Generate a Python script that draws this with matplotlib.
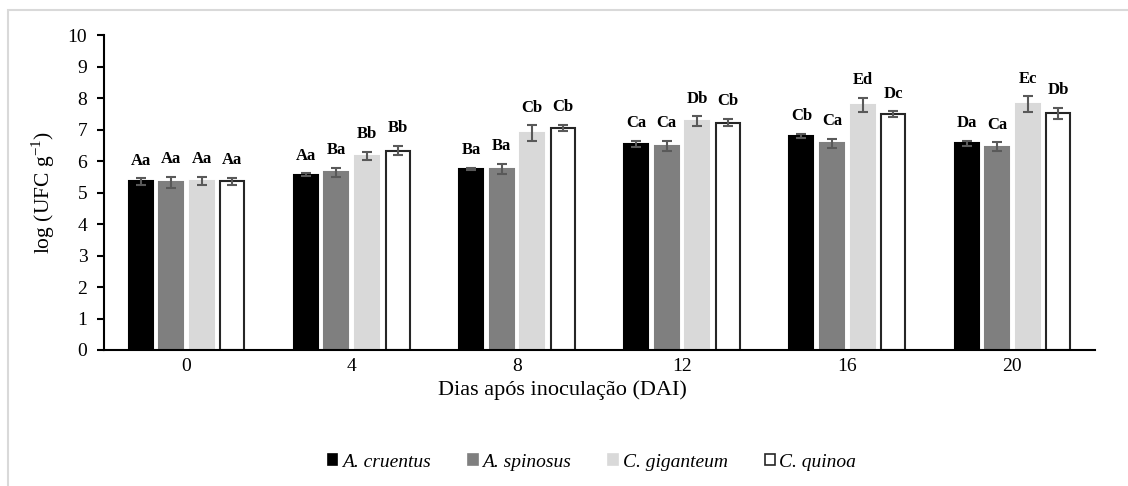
import matplotlib.pyplot as plt
import numpy as np
from matplotlib.patches import Rectangle

plt.rcParams['font.family'] = ['Liberation Serif', 'DejaVu Serif']

dias = ['0', '4', '8', '12', '16', '20']
especies = ['A. cruentus', 'A. spinosus', 'C. giganteum', 'C. quinoa']

cruentus = [5.35, 5.56, 5.75, 6.53, 6.79, 6.56]
spinosus = [5.32, 5.64, 5.74, 6.48, 6.56, 6.45]
giganteum = [5.37, 6.16, 6.88, 7.27, 7.79, 7.80]
quinoa = [5.35, 6.33, 7.05, 7.22, 7.49, 7.51]

err_cruentus = [0.10, 0.05, 0.03, 0.10, 0.07, 0.08]
err_spinosus = [0.17, 0.15, 0.16, 0.16, 0.15, 0.14]
err_giganteum = [0.12, 0.14, 0.25, 0.15, 0.22, 0.25]
err_quinoa = [0.12, 0.14, 0.10, 0.12, 0.09, 0.17]

let_cruentus = ['Aa', 'Aa', 'Ba', 'Ca', 'Cb', 'Da']
let_spinosus = ['Aa', 'Ba', 'Ba', 'Ca', 'Ca', 'Ca']
let_giganteum = ['Aa', 'Bb', 'Cb', 'Db', 'Ed', 'Ec']
let_quinoa = ['Aa', 'Bb', 'Cb', 'Cb', 'Dc', 'Db']

series = [cruentus, spinosus, giganteum, quinoa]
erros = [err_cruentus, err_spinosus, err_giganteum, err_quinoa]
letras = [let_cruentus, let_spinosus, let_giganteum, let_quinoa]
faces = ['black', '#7f7f7f', '#d9d9d9', 'white']
edges = ['black', '#7f7f7f', '#d9d9d9', '#262626']

fig = plt.figure(figsize=(11.28, 4.86), dpi=100)
# moldura cinza do gráfico
fig.patches.append(Rectangle((8 / 1128, -0.1), 1.2, 1 - 10 / 486 + 0.1,
                             transform=fig.transFigure, fill=False,
                             edgecolor='#d9d9d9', linewidth=1.5))
ax = fig.add_axes([104 / 1128, 136 / 486, 991 / 1128, 315 / 486])

x = np.arange(len(dias))
passo = 0.185
largura = 0.145
for i in range(4):
    pos = x + (i - 1.5) * passo
    ax.bar(pos, series[i], width=largura, color=faces[i], edgecolor=edges[i],
           linewidth=1.5, label=especies[i], zorder=2)
    ax.errorbar(pos, series[i], yerr=erros[i], fmt='none', ecolor='#595959',
                elinewidth=1.5, capsize=3.3, capthick=1.5, zorder=3)
    for j in range(len(dias)):
        ax.annotate(letras[i][j], (pos[j], series[i][j] + erros[i][j]),
                    xytext=(0, 7), textcoords='offset points', ha='center',
                    va='bottom', fontsize=12, fontweight='bold')

ax.set_xlim(-0.5, len(dias) - 0.5)
ax.set_ylim(0, 10)
ax.set_yticks(range(0, 11))
ax.set_xticks(x)
ax.set_xticklabels(dias)
ax.tick_params(axis='y', direction='out', length=5, width=1.5, labelsize=14, pad=7)
ax.tick_params(axis='x', length=0, labelsize=14, pad=6)
for s in ['top', 'right']:
    ax.spines[s].set_visible(False)
for s in ['left', 'bottom']:
    ax.spines[s].set_linewidth(1.5)

ax.set_xlabel('Dias após inoculação (DAI)', fontsize=16)
ax.xaxis.set_label_coords(0.463, -0.127)
ax.xaxis.label.set_va('center')
ax.set_ylabel('log (UFC g$^{\\mathregular{-1}}$)', fontsize=15.5, labelpad=8)

leg = fig.legend(loc='center', bbox_to_anchor=(592 / 1128, 1 - 462 / 486), ncol=4,
                 frameon=False, handlelength=0.5, handleheight=0.5,
                 handletextpad=0.25, columnspacing=1.9,
                 prop={'style': 'italic', 'size': 14})
for h in leg.legend_handles:
    h.set_linewidth(1.2)

fig.savefig('out.png', dpi=100)
